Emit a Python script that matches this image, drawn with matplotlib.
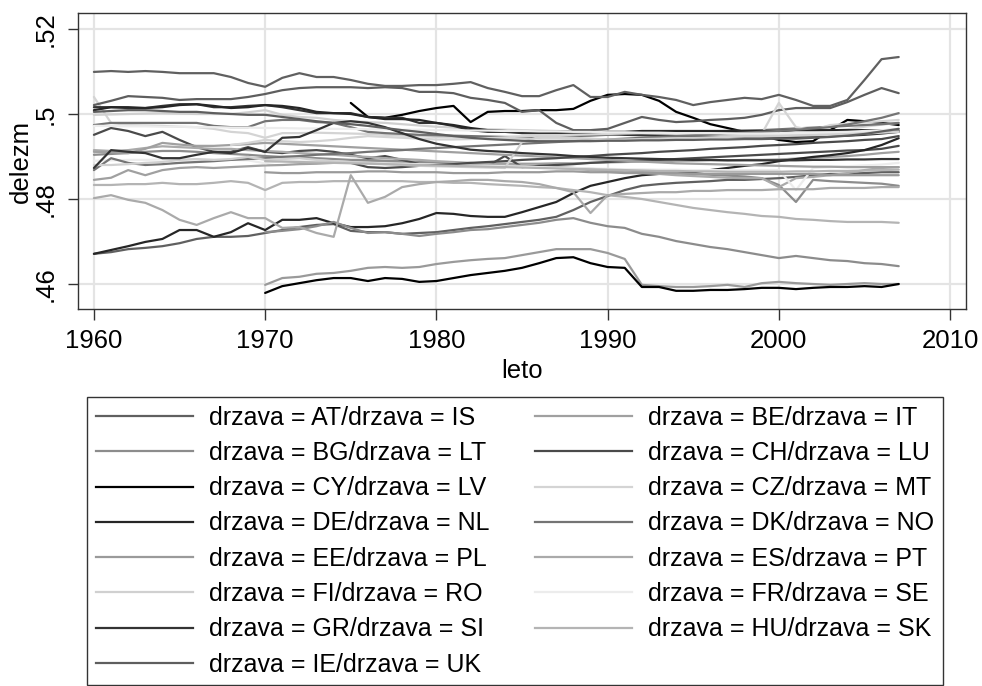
import numpy as np
import matplotlib
matplotlib.use("Agg")
import matplotlib.pyplot as plt
from matplotlib.lines import Line2D

plt.rcParams['font.family'] = ['Liberation Sans', 'DejaVu Sans']

# Share of males in population, per mille, yearly from the given start year to 2007
AT = (1960, [467.1, 467.5, 468.2, 468.5, 468.9, 469.6, 470.6, 471.1, 471.1, 471.3,
             472.0, 472.7, 473.4, 473.9, 474.1, 472.5, 472.2, 472.2, 471.8, 472.0,
             472.2, 472.7, 473.2, 473.6, 474.1, 474.6, 475.1, 475.8, 477.4, 479.3,
             480.7, 482.1, 483.1, 483.5, 483.8, 484.0, 484.2, 484.5, 484.5, 484.7,
             484.9, 485.2, 485.6, 485.9, 485.9, 486.1, 486.3, 486.3])
BE = (1960, [484.5, 485.0, 486.8, 485.6, 486.8, 487.3, 487.5, 487.3, 487.5, 487.7,
             487.9, 488.0, 488.2, 488.3, 488.5, 488.6, 488.7, 488.7, 488.7, 488.6,
             488.6, 488.5, 488.4, 488.3, 488.3, 488.3, 488.3, 488.4, 488.4, 488.5,
             488.6, 488.7, 488.8, 488.9, 489.0, 489.0, 489.1, 489.1, 489.2, 489.2,
             489.3, 489.5, 489.7, 489.9, 490.1, 490.4, 490.8, 491.1])
BG = (1960, [490.4, 490.6, 490.8, 491.1, 491.3, 491.3, 491.1, 490.8, 490.6, 490.4,
             490.1, 489.9, 489.9, 489.6, 489.4, 489.2, 489.2, 489.0, 488.9, 488.7,
             488.5, 488.4, 488.2, 488.1, 487.9, 487.8, 487.6, 487.5, 487.3, 487.1,
             486.9, 486.7, 486.5, 486.3, 486.1, 485.9, 485.7, 485.5, 485.3, 484.9,
             483.3, 479.3, 484.5, 484.2, 484.0, 483.8, 483.6, 483.1])
CH = (1960, [495.1, 496.7, 496.0, 494.8, 495.8, 493.9, 492.2, 491.1, 491.1, 492.2,
             491.1, 490.8, 491.3, 491.5, 491.1, 490.4, 489.6, 490.1, 489.2, 488.2,
             487.8, 487.8, 488.0, 487.8, 490.1, 487.5, 487.8, 488.0, 488.2, 488.5,
             488.7, 488.9, 489.1, 489.2, 489.4, 489.6, 489.8, 490.0, 490.2, 490.4,
             490.6, 490.8, 491.0, 491.2, 491.4, 491.5, 491.8, 492.5])
CY = (1975, [502.6, 499.3, 499.1, 499.8, 500.7,
             501.4, 501.9, 498.1, 500.5, 500.7, 500.7, 500.9, 500.9, 501.2, 503.1,
             504.5, 504.7, 504.5, 503.1, 500.5, 499.1, 497.6, 496.7, 495.8, 494.8,
             493.9, 493.4, 493.6, 496.2, 498.6, 498.3, 497.9, 497.4])
CZ = (1960, [504.0, 497.9, 497.4, 497.3, 497.2, 497.0, 496.9, 496.5, 495.8, 495.5,
             494.4, 495.5, 495.5, 495.6, 495.5, 495.4, 495.3, 495.1, 494.9, 494.8,
             494.6, 494.5, 494.4, 494.4, 494.3, 494.3, 494.2, 494.2, 494.1, 494.1,
             494.0, 494.0, 494.1, 494.3, 494.5, 494.7, 494.8, 494.9, 495.0, 495.1,
             495.3, 495.5, 495.7, 496.0, 496.4, 497.0, 497.5, 497.9])
DE = (1960, [467.1, 468.0, 468.9, 469.9, 470.6, 472.7, 472.7, 471.1, 472.2, 474.3,
             472.7, 475.1, 475.1, 475.5, 474.3, 473.4, 473.4, 473.6, 474.3, 475.3,
             476.7, 476.5, 476.0, 475.8, 475.8, 476.9, 478.1, 479.3, 481.4, 483.1,
             484.0, 484.9, 485.6, 485.9, 486.1, 486.3, 486.8, 487.3, 487.8, 488.2,
             488.9, 489.4, 489.9, 490.3, 490.8, 491.5, 492.7, 494.3])
DK = (1960, [497.4, 497.9, 497.9, 497.9, 497.9, 497.9, 497.9, 497.2, 496.9, 496.9,
             498.3, 498.6, 498.6, 498.1, 497.9, 496.9, 495.8, 495.5, 495.3, 495.1,
             495.0, 494.9, 494.8, 494.7, 494.6, 494.6, 494.6, 494.7, 494.8, 494.9,
             495.1, 495.3, 495.5, 495.6, 495.7, 495.8, 495.9, 496.0, 496.1, 496.2,
             496.4, 496.6, 496.8, 497.0, 497.2, 497.4, 497.6, 497.9])
EE = (1970, [459.8, 461.4, 461.7, 462.4, 462.6, 463.1, 463.8, 464.0, 463.8, 464.0,
             464.7, 465.2, 465.6, 465.9, 466.1, 466.8, 467.5, 468.2, 468.2, 468.2,
             467.3, 465.9, 459.8, 459.5, 459.3, 459.3, 459.5, 459.8, 459.3, 460.2,
             460.5, 460.2, 460.0, 459.8, 460.0, 460.2, 460.0, 460.0])
ES = (1960, [491.5, 491.3, 491.5, 492.0, 492.4, 492.2, 492.0, 491.8, 491.8, 491.5,
             491.3, 491.1, 490.8, 490.6, 490.4, 490.1, 489.9, 489.6, 489.4, 489.2,
             488.9, 488.7, 488.5, 488.2, 488.0, 487.8, 487.5, 487.3, 487.1, 486.8,
             486.6, 486.3, 486.1, 485.9, 485.6, 485.4, 485.2, 485.0, 484.9, 484.9,
             482.8, 484.9, 485.2, 485.6, 486.1, 486.8, 487.3, 487.5])
FI = (1960, [499.8, 499.9, 500.0, 500.1, 500.2, 500.1, 500.0, 500.0, 500.0, 500.4,
             500.9, 499.8, 499.3, 499.1, 498.6, 498.3, 498.1, 497.9, 497.6, 497.3,
             497.0, 496.8, 496.6, 496.4, 496.3, 496.2, 496.1, 496.0, 495.9, 495.8,
             495.7, 495.6, 495.5, 495.4, 495.3, 495.2, 495.1, 495.1, 495.0, 495.0,
             495.0, 495.1, 495.2, 495.4, 495.6, 495.8, 496.1, 496.5])
FR = (1960, [489.0, 489.1, 489.2, 489.2, 489.3, 489.3, 489.3, 489.2, 489.2, 489.1,
             488.4, 489.0, 488.9, 488.8, 488.7, 488.6, 488.5, 488.4, 488.3, 488.2,
             488.1, 488.0, 487.9, 487.8, 487.7, 487.6, 487.5, 487.4, 487.3, 487.2,
             487.1, 487.0, 487.0, 486.9, 486.9, 486.8, 486.8, 486.8, 486.8, 486.8,
             486.8, 482.1, 487.3, 487.5, 487.7, 487.9, 488.1, 488.5])
GR = (1960, [501.6, 501.6, 501.4, 501.4, 501.9, 502.3, 502.3, 501.6, 501.6, 501.9,
             502.1, 501.6, 500.9, 500.2, 500.2, 500.2, 499.3, 499.1, 499.1, 497.9,
             497.9, 497.2, 496.2, 495.8, 495.8, 495.5, 495.5, 495.5, 495.5, 495.3,
             495.3, 495.1, 495.0, 494.9, 494.8, 494.7, 494.6, 494.6, 494.5, 494.5,
             494.5, 494.6, 494.7, 494.8, 494.9, 495.1, 495.4, 495.8])
HU = (1960, [483.3, 483.3, 483.5, 483.5, 483.8, 483.5, 483.5, 483.8, 484.2, 483.8,
             482.1, 483.8, 484.0, 484.0, 484.2, 484.2, 484.2, 484.2, 484.2, 484.0,
             484.0, 483.8, 483.8, 483.5, 483.3, 483.1, 482.8, 482.6, 482.1, 481.6,
             480.9, 480.5, 480.0, 479.3, 478.6, 477.9, 477.4, 476.9, 476.5, 476.0,
             475.8, 475.3, 475.1, 474.8, 474.6, 474.6, 474.6, 474.4])
IE = (1960, [502.1, 503.1, 504.2, 504.0, 503.8, 503.3, 503.5, 503.5, 503.5, 504.0,
             504.7, 505.6, 506.1, 506.3, 506.3, 506.3, 506.1, 506.3, 506.1, 505.2,
             505.2, 504.9, 503.8, 503.3, 502.6, 500.5, 500.9, 497.9, 496.2, 496.2,
             496.5, 497.9, 499.3, 498.6, 498.1, 498.3, 498.6, 498.8, 499.1, 499.8,
             500.9, 501.4, 501.4, 501.4, 502.8, 504.5, 506.1, 504.9])
IS = (1960, [509.9, 510.1, 509.9, 510.1, 509.9, 509.6, 509.6, 509.6, 508.7, 507.3,
             506.4, 508.5, 509.6, 508.7, 508.7, 508.0, 507.1, 506.6, 506.6, 506.8,
             506.8, 507.1, 507.5, 506.1, 505.2, 504.2, 504.2, 505.6, 506.8, 504.0,
             504.0, 505.2, 504.5, 504.0, 503.3, 502.1, 502.8, 503.3, 503.8, 503.5,
             504.5, 503.3, 501.9, 501.9, 503.3, 508.0, 512.9, 513.4])
IT = (1960, [491.1, 491.0, 490.8, 491.8, 493.2, 492.8, 492.5, 492.5, 492.7, 492.9,
             493.2, 493.0, 492.8, 492.6, 492.4, 492.2, 492.0, 491.8, 491.6, 491.4,
             491.2, 491.0, 490.8, 490.6, 490.4, 490.2, 490.0, 489.8, 489.6, 489.4,
             489.2, 489.0, 488.8, 488.6, 488.4, 488.3, 488.2, 488.1, 488.0, 487.9,
             487.8, 487.7, 487.6, 487.6, 487.5, 487.5, 487.5, 487.5])
LT = (1970, [472.2, 472.5, 472.9, 473.6, 474.6, 473.2, 472.0, 472.2, 471.8, 471.3,
             471.8, 472.2, 472.7, 472.9, 473.4, 473.9, 474.4, 475.1, 475.5, 474.4,
             473.6, 473.2, 471.8, 471.1, 470.1, 469.4, 468.7, 468.2, 467.5, 466.8,
             466.1, 466.6, 466.1, 465.6, 465.4, 464.9, 464.7, 464.2])
LU = (1975, [488.5, 487.5, 487.3, 487.5, 487.8,
             488.0, 488.2, 488.5, 488.7, 488.9, 489.2, 489.4, 489.6, 489.9, 490.1,
             490.4, 490.6, 490.8, 491.1, 491.3, 491.5, 491.8, 492.0, 492.2, 492.5,
             492.7, 492.9, 493.2, 493.4, 493.6, 493.9, 494.1, 494.8])
LV = (1970, [457.9, 459.5, 460.2, 460.9, 461.4, 461.4, 460.7, 461.4, 461.2, 460.5,
             460.7, 461.4, 462.1, 462.6, 463.1, 463.8, 464.9, 466.1, 466.3, 464.9,
             464.0, 463.8, 459.3, 459.3, 458.4, 458.4, 458.6, 458.6, 458.8, 459.1,
             459.1, 458.8, 459.1, 459.3, 459.3, 459.5, 459.3, 460.0])
MT = (1968, [492.7, 493.2,
             493.9, 493.6, 493.4, 493.6, 493.9, 494.4, 494.8, 494.6, 494.4, 494.2,
             494.0, 494.0, 494.1, 494.3, 494.5, 494.7, 494.9, 495.0, 495.1, 495.2,
             495.3, 495.4, 495.5, 495.5, 495.5, 495.4, 495.3, 495.2, 495.1, 495.3,
             502.6, 496.9, 496.2, 497.4, 497.7, 498.0, 498.3, 498.6])
NL = (1960, [500.9, 501.6, 501.6, 501.4, 501.6, 502.1, 502.3, 501.9, 501.4, 501.6,
             502.1, 501.9, 501.4, 500.5, 500.2, 500.0, 499.3, 498.8, 498.8, 498.6,
             497.9, 497.4, 496.7, 496.2, 496.0, 495.8, 495.8, 495.8, 495.8, 495.8,
             495.8, 495.8, 496.0, 496.0, 496.0, 496.0, 496.0, 496.0, 496.0, 496.0,
             496.0, 496.2, 496.2, 496.2, 496.2, 496.2, 496.2, 496.0])
NO = (1960, [486.8, 489.6, 488.5, 488.0, 488.2, 488.5, 488.7, 488.9, 489.2, 489.4,
             489.6, 489.9, 490.1, 490.4, 490.6, 490.8, 491.1, 491.3, 491.5, 491.8,
             492.0, 492.2, 492.4, 492.6, 492.8, 493.0, 493.2, 493.4, 493.6, 493.8,
             494.0, 494.2, 494.4, 494.6, 494.8, 495.0, 495.2, 495.4, 495.6, 495.8,
             496.0, 496.3, 496.6, 496.9, 497.5, 498.3, 499.1, 500.2])
PL = (1970, [486.3, 486.1, 486.1, 486.3, 486.3, 486.3, 486.5, 486.5, 486.3, 486.3,
             486.3, 486.1, 486.1, 486.1, 486.3, 486.3, 486.3, 486.5, 486.5, 486.3,
             486.3, 486.1, 486.1, 486.1, 486.1, 485.9, 485.9, 485.9, 485.9, 485.9,
             485.9, 485.9, 485.9, 485.6, 485.6, 485.6, 485.6, 485.6])
PT = (1960, [480.2, 480.9, 479.8, 479.1, 477.4, 475.1, 473.9, 475.5, 476.9, 475.5,
             475.5, 473.2, 473.4, 472.0, 471.1, 485.6, 479.1, 480.5, 482.8, 483.5,
             484.0, 484.2, 484.5, 484.5, 484.2, 484.0, 483.5, 482.6, 481.6, 476.7,
             480.9, 481.2, 481.4, 481.6, 481.6, 481.9, 481.9, 482.1, 482.1, 482.1,
             482.3, 482.3, 482.3, 482.6, 482.6, 482.6, 482.8, 482.8])
RO = (1960, [488.0, 488.0, 488.2, 488.5, 488.7, 489.2, 489.4, 489.2, 489.4, 489.9,
             489.2, 489.4, 489.6, 489.2, 488.9, 488.7, 488.5, 488.2, 488.0, 487.8,
             487.7, 487.6, 487.5, 487.4, 487.3, 493.4, 494.6, 494.6, 494.4, 494.2,
             494.0, 494.0, 494.1, 494.2, 494.3, 494.4, 494.5, 494.6, 494.7, 494.7,
             494.8, 494.9, 495.0, 495.1, 495.2, 495.4, 495.6, 495.8])
SE = (1960, [497.2, 497.2, 497.1, 497.1, 497.0, 497.0, 496.9, 496.9, 496.8, 496.8,
             496.7, 496.7, 496.6, 496.6, 496.5, 496.5, 496.4, 496.4, 496.3, 496.3,
             496.2, 496.2, 496.1, 496.1, 496.0, 496.0, 495.9, 495.9, 495.8, 495.8,
             495.7, 495.7, 495.6, 495.6, 495.5, 495.5, 495.5, 495.4, 495.4, 495.4,
             495.4, 495.5, 495.6, 495.7, 495.8, 496.0, 496.2, 496.4])
SI = (1960, [487.3, 491.5, 491.1, 490.8, 489.6, 489.6, 490.4, 491.1, 490.8, 492.0,
             491.1, 494.4, 494.6, 496.2, 497.9, 498.3, 497.9, 496.9, 495.5, 494.1,
             493.0, 492.3, 491.6, 491.3, 491.1, 490.8, 490.6, 490.4, 490.1, 489.9,
             489.7, 489.6, 489.5, 489.4, 489.3, 489.2, 489.2, 489.1, 489.1, 489.1,
             489.1, 489.1, 489.2, 489.2, 489.3, 489.3, 489.4, 489.4])
SK = (1970, [488.9, 488.8, 488.7, 488.6, 488.5, 488.4, 488.3, 488.2, 488.1, 488.0,
             487.9, 487.8, 487.7, 487.6, 487.5, 487.4, 487.3, 487.2, 487.1, 487.0,
             486.9, 486.8, 486.7, 486.6, 486.6, 486.5, 486.5, 486.4, 486.4, 486.4,
             486.4, 486.5, 486.5, 486.6, 486.6, 486.7, 486.8, 486.9])
UK = (1960, [500.5, 500.7, 500.9, 500.9, 500.7, 500.5, 500.5, 500.2, 500.0, 499.8,
             499.8, 499.3, 498.8, 498.3, 497.9, 497.6, 497.2, 496.7, 496.2, 495.8,
             495.3, 494.8, 494.4, 494.1, 493.9, 493.7, 493.6, 493.6, 493.6, 493.6,
             493.7, 493.7, 493.8, 493.8, 493.9, 493.9, 494.0, 494.0, 494.1, 494.1,
             494.2, 494.2, 494.4, 494.6, 494.9, 495.3, 495.9, 496.5])

countries = ['AT', 'BE', 'BG', 'CH', 'CY', 'CZ', 'DE', 'DK', 'EE', 'ES',
             'FI', 'FR', 'GR', 'HU', 'IE', 'IS', 'IT', 'LT', 'LU', 'LV',
             'MT', 'NL', 'NO', 'PL', 'PT', 'RO', 'SE', 'SI', 'SK', 'UK']
series = [AT, BE, BG, CH, CY, CZ, DE, DK, EE, ES, FI, FR, GR, HU, IE,
          IS, IT, LT, LU, LV, MT, NL, NO, PL, PT, RO, SE, SI, SK, UK]

# monochrome pen styles, reused after the fifteenth series
pens = ['#606060', '#a0a0a0', '#8c8c8c', '#4a4a4a', '#000000',
        '#d4d4d4', '#262626', '#747474', '#9a9a9a', '#aaaaaa',
        '#d0d0d0', '#ececec', '#333333', '#b4b4b4', '#5e5e5e']

FS = 18.5

fig = plt.figure(figsize=(9.82, 6.86), dpi=100)
ax = fig.add_axes([78 / 982, 1 - 309 / 686, 888 / 982, 296 / 686])

for i, (start, vals) in enumerate(series):
    yrs = np.arange(start, start + len(vals))
    ax.plot(yrs, np.array(vals) / 1000.0, color=pens[i % 15], lw=1.6,
            solid_joinstyle='round', solid_capstyle='round', zorder=3)

ax.set_xlim(1959.07, 2010.93)
ax.set_ylim(0.45412, 0.52376)
ax.set_xticks([1960, 1970, 1980, 1990, 2000, 2010])
ax.set_yticks([0.46, 0.48, 0.50, 0.52])
ax.set_yticklabels(['.46', '.48', '.5', '.52'], rotation=90, va='center')
ax.grid(True, color='#e4e4e4', lw=1.6, zorder=0)
ax.set_axisbelow(True)
ax.tick_params(axis='x', direction='out', length=8, width=1, color='#333333',
               labelsize=FS, pad=6.5)
ax.tick_params(axis='y', direction='out', length=7.5, width=1, color='#333333',
               labelsize=FS, pad=7)
for s in ax.spines.values():
    s.set_color('#333333')
    s.set_linewidth(1)
ax.set_xlabel('leto', fontsize=FS, labelpad=4)
ax.set_ylabel('delezm', fontsize=FS, labelpad=0.5)

handles = [Line2D([], [], color=pens[k], lw=1.6) for k in range(15)]
labels = [f'drzava = {countries[k]}/drzava = {countries[k + 15]}' for k in range(15)]
order = [0, 2, 4, 6, 8, 10, 12, 14, 1, 3, 5, 7, 9, 11, 13]
leg = fig.legend([handles[k] for k in order], [labels[k] for k in order],
                 ncol=2, loc='upper left', bbox_to_anchor=(87 / 982, 1 - 397 / 686),
                 borderaxespad=0, fontsize=18, frameon=True, fancybox=False,
                 edgecolor='#000000', handlelength=3.9, handletextpad=0.64,
                 columnspacing=1.8, labelspacing=0.45, borderpad=0.35)
leg.get_frame().set_linewidth(1)

fig.savefig('out.png', dpi=100, facecolor='white')
